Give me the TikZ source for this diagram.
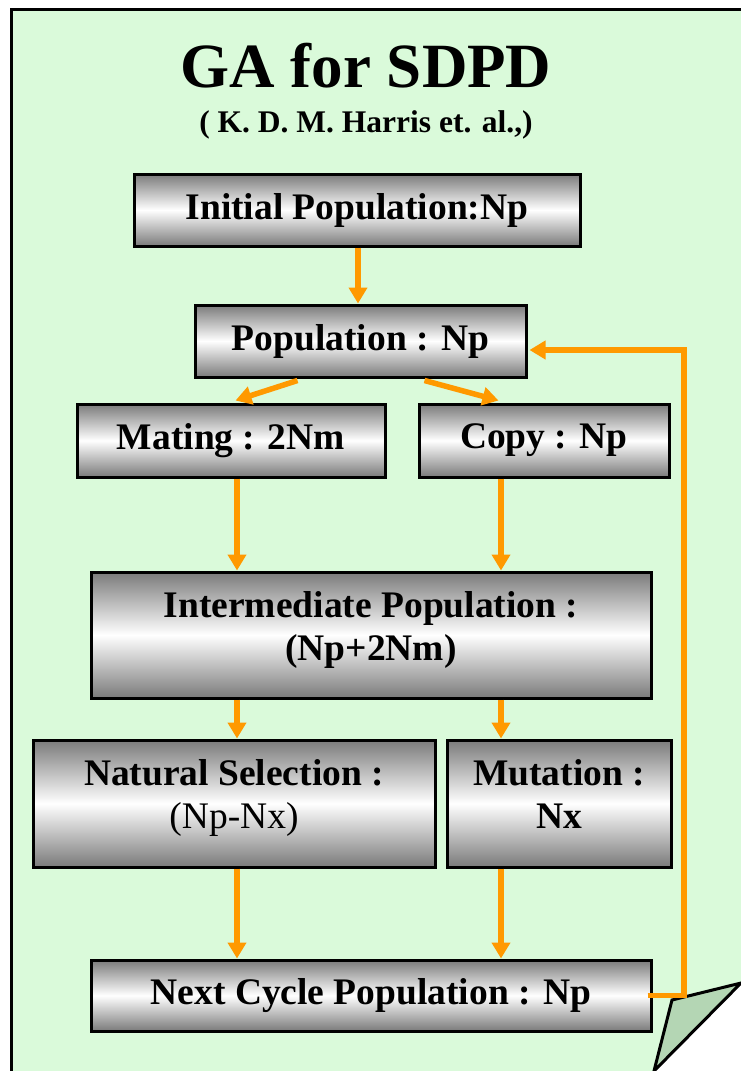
\documentclass[tikz,border=0pt]{standalone}
\usepackage{fontspec}
\setmainfont{Liberation Serif}
\usetikzlibrary{arrows.meta,calc}

\definecolor{pagegreen}{RGB}{218,250,218}
\definecolor{flapgreen}{RGB}{180,214,180}
\definecolor{flow}{RGB}{255,153,0}

% two centred lines, lifted a little inside their box
\newcommand{\twolines}[2]{\raisebox{5pt}[\height][\depth]{\begin{tabular}{@{}c@{}}#1\\#2\end{tabular}}}

\tikzset{
  stepbox/.style={draw=black, line width=3pt, rectangle,
    top color=black!52, bottom color=black!52, middle color=white,
    align=center, inner sep=0pt,
    font=\bfseries\fontsize{37.5}{43}\selectfont},
  flowline/.style={draw=flow, line width=5.5pt},
  flowarrow/.style={flowline, -{Triangle[width=18pt,length=16pt]}},
}

\begin{document}
\begin{tikzpicture}[x=1pt,y=-1pt]
\useasboundingbox (0,0) rectangle (741,1071);
\clip (0,0) rectangle (741,1071);

% page with a turned-down corner
\fill[pagegreen] (11,9) -- (760,9) -- (760,964) -- (741,983) -- (654,1071) -- (654,1090) -- (11,1090) -- cycle;
\draw[line width=3pt] (11,1090) -- (11,9) -- (760,9);
\draw[line width=3pt, fill=flapgreen, line join=miter] (672,1000) -- (741,983) -- (654,1071) -- cycle;

% title
\node (title) at (366,66) {\bfseries\fontsize{63}{70}\selectfont GA for SDPD};
\node (sub) at (366,125) {\bfseries\fontsize{31.5}{36}\selectfont ( K. D. M. Harris et. al.,)};

% flow boxes
\node[stepbox, minimum width=446pt, minimum height=72pt] (init) at (357,210) {Initial Population:Np};
\node[stepbox, minimum width=331pt, minimum height=72pt] (pop) at (360.5,341) {Population : Np};
\node[stepbox, minimum width=308pt, minimum height=73pt] (mat) at (231,440.5) {Mating : 2Nm};
\node[stepbox, minimum width=250pt, minimum height=73pt] (copy) at (544,440.5) {Copy : Np};
\node[stepbox, minimum width=560pt, minimum height=126pt] (inter) at (371,635) {\twolines{Intermediate Population :}{(Np+2Nm)}};
\node[stepbox, minimum width=402pt, minimum height=127pt] (nat) at (234,803.5) {\twolines{Natural Selection :}{\mdseries (Np-Nx)}};
\node[stepbox, minimum width=224pt, minimum height=127pt] (mut) at (559,803.5) {\twolines{Mutation :}{Nx}};
\node[stepbox, minimum width=560pt, minimum height=71pt] (next) at (371,995.5) {Next Cycle Population : Np};

% column positions of the vertical connectors
\coordinate (cl) at (237,0);
\coordinate (cr) at (501,0);
\coordinate (cm) at (358,0);
\coordinate (loop) at (684,0);

% connectors
\draw[flowarrow] (init.south -| cm) -- (pop.north -| cm);
\draw[flowarrow] ($(pop.south west)+(104,2)$) -- ($(mat.north west)+(160,-2)$);
\draw[flowarrow] ($(pop.south west)+(231,2)$) -- ($(copy.north west)+(81,-2)$);
\draw[flowarrow] (mat.south -| cl) -- (inter.north -| cl);
\draw[flowarrow] (copy.south -| cr) -- (inter.north -| cr);
\draw[flowarrow] (inter.south -| cl) -- (nat.north -| cl);
\draw[flowarrow] (inter.south -| cr) -- (mut.north -| cr);
\draw[flowarrow] (nat.south -| cl) -- (next.north -| cl);
\draw[flowarrow] (mut.south -| cr) -- (next.north -| cr);

% feedback to the population
\coordinate (fbstart) at ($(next.east)+(-5,0)$);
\coordinate (fbend) at ($(pop.east)+(2,9)$);
\draw[flowarrow, line join=miter] (fbstart) -- (fbstart -| loop) -- (fbend -| loop) -- (fbend);
\end{tikzpicture}
\end{document}
